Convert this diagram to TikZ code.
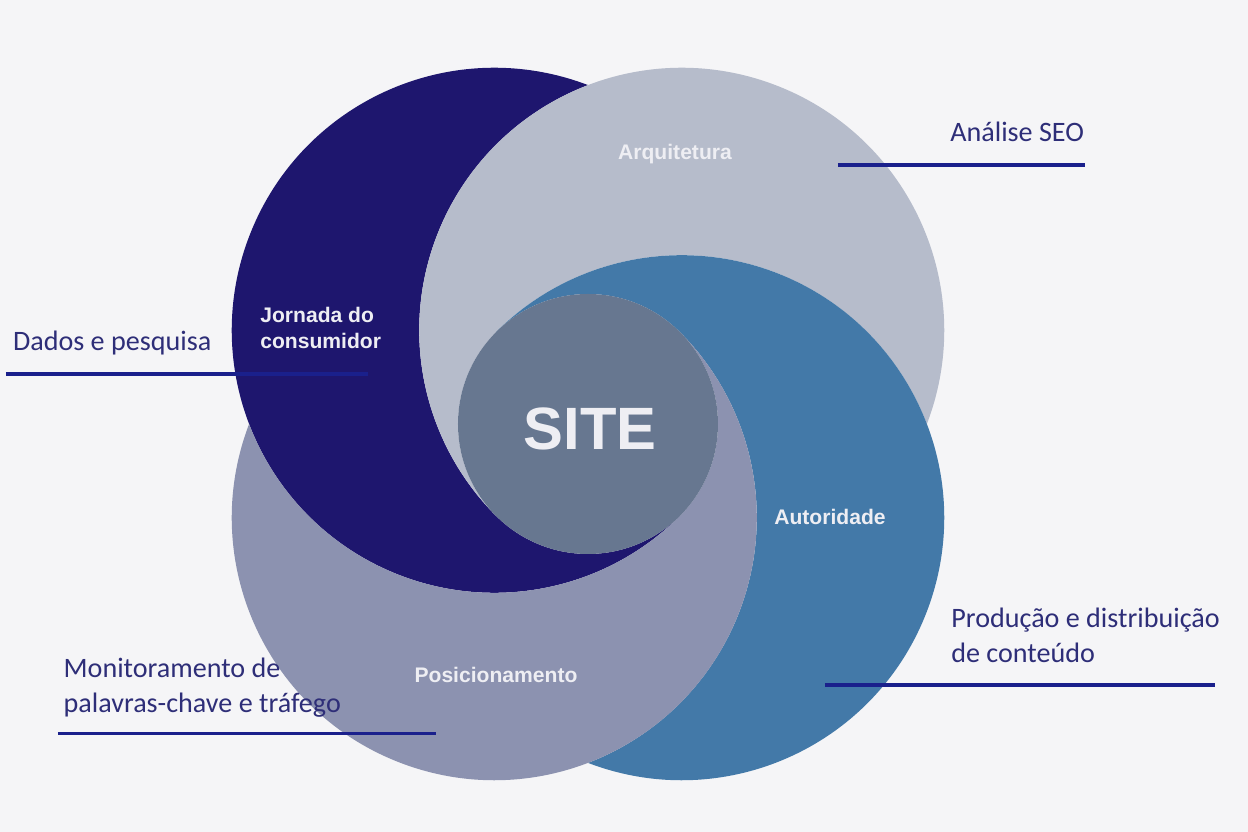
\documentclass[tikz,border=0pt]{standalone}
\usepackage{fontspec}
\setmainfont{Carlito}
\newfontfamily\boldsans{Liberation Sans}
\usetikzlibrary{calc}

\definecolor{bgcolor}{RGB}{245,245,247}
\definecolor{jornadacolor}{RGB}{30,22,110}
\definecolor{arquiteturacolor}{RGB}{182,188,203}
\definecolor{autoridadecolor}{RGB}{67,121,168}
\definecolor{posicionamentocolor}{RGB}{140,146,176}
\definecolor{sitecolor}{RGB}{103,119,144}
\definecolor{sidetext}{RGB}{46,46,120}
\definecolor{linecolor}{RGB}{26,32,140}
\definecolor{ringtext}{RGB}{238,238,243}

\tikzset{
	side text/.style={text=sidetext, font=\fontsize{16}{20}\selectfont, align=left, inner sep=0pt, anchor=base west},
	ring text/.style={text=ringtext, font=\boldsans\bfseries\fontsize{12}{14.6}\selectfont, align=left, inner sep=0pt},
	underline/.style={draw=linecolor, line width=2pt},
}

\begin{document}
\begin{tikzpicture}
	
	%Background
	\useasboundingbox (-11.76,-8.16) rectangle (13.2,8.48);
	\fill[bgcolor] (-11.76,-8.16) rectangle (13.2,8.48);
	
	%Centers of the big circles (radius 5.25), all touching the site circle (radius 2.6)
	\coordinate (jornada) at (-1.874,1.874);
	\coordinate (arquitetura) at (1.874,1.874);
	\coordinate (autoridade) at (1.874,-1.874);
	\coordinate (posicionamento) at (-1.874,-1.874);
	\coordinate (site) at (0,0);
	
	%First crescent
	\fill[jornadacolor] ($(jornada)+(69.09:5.25)$) arc[start angle=69.09, end angle=315, radius=5.25]
	arc[start angle=315, end angle=225, radius=2.6]
	arc[start angle=225, end angle=110.91, radius=5.25] -- cycle;
	
	%Second crescent
	\fill[arquiteturacolor] ($(arquitetura)+(-20.91:5.25)$) arc[start angle=-20.91, end angle=225, radius=5.25]
	arc[start angle=225, end angle=135, radius=2.6]
	arc[start angle=135, end angle=20.91, radius=5.25] -- cycle;
	
	%Third crescent
	\fill[autoridadecolor] ($(autoridade)+(-110.91:5.25)$) arc[start angle=-110.91, end angle=135, radius=5.25]
	arc[start angle=135, end angle=45, radius=2.6]
	arc[start angle=45, end angle=-69.09, radius=5.25] -- cycle;
	
	%Fourth crescent
	\fill[posicionamentocolor] ($(posicionamento)+(159.09:5.25)$) arc[start angle=159.09, end angle=405, radius=5.25]
	arc[start angle=405, end angle=315, radius=2.6]
	arc[start angle=315, end angle=200.91, radius=5.25] -- cycle;
	
	%Site circle
	\fill[sitecolor] (site) circle (2.6);
	\node (site label) at (0.04,-0.52) [ring text, anchor=base, font=\boldsans\bfseries\fontsize{34}{40}\selectfont]{SITE};
	
	%Writing in the crescents (base = last line)
	\node (jornada label) at (-6.56,1.514) [ring text, anchor=base west]{Jornada do\\consumidor};
	\node (arquitetura label) at (1.74,5.29) [ring text, anchor=base]{Arquitetura};
	\node (autoridade label) at (4.84,-2.01) [ring text, anchor=base]{Autoridade};
	\node (posicionamento label) at (-1.84,-5.17) [ring text, anchor=base]{Posicionamento};
	
	%Analise SEO
	\node (seo) at (7.24,5.64) [side text]{Análise SEO};
	\coordinate (seo start) at (5.0,5.18);
	\coordinate (seo end) at (9.94,5.18);
	\draw[underline] (seo start) -- (seo end);
	
	%Dados e pesquisa
	\node (dados) at (-11.506,1.46) [side text]{Dados e pesquisa};
	\coordinate (dados start) at (-11.64,1.0);
	\coordinate (dados end) at (-4.4,1.0);
	\draw[underline] (dados start) -- (dados end);
	
	%Producao
	\node (producao) at (7.26,-4.774) [side text]{Produção e distribuição\\de conteúdo};
	\coordinate (producao start) at (4.74,-5.22);
	\coordinate (producao end) at (12.54,-5.22);
	\draw[underline] (producao start) -- (producao end);
	
	%Monitoramento
	\node (monitoramento) at (-10.494,-5.774) [side text]{Monitoramento de\\palavras-chave e tráfego};
	\coordinate (monitoramento start) at (-10.6,-6.186);
	\coordinate (monitoramento end) at (-3.04,-6.186);
	\draw[underline] (monitoramento start) -- (monitoramento end);
	
\end{tikzpicture}
\end{document}
